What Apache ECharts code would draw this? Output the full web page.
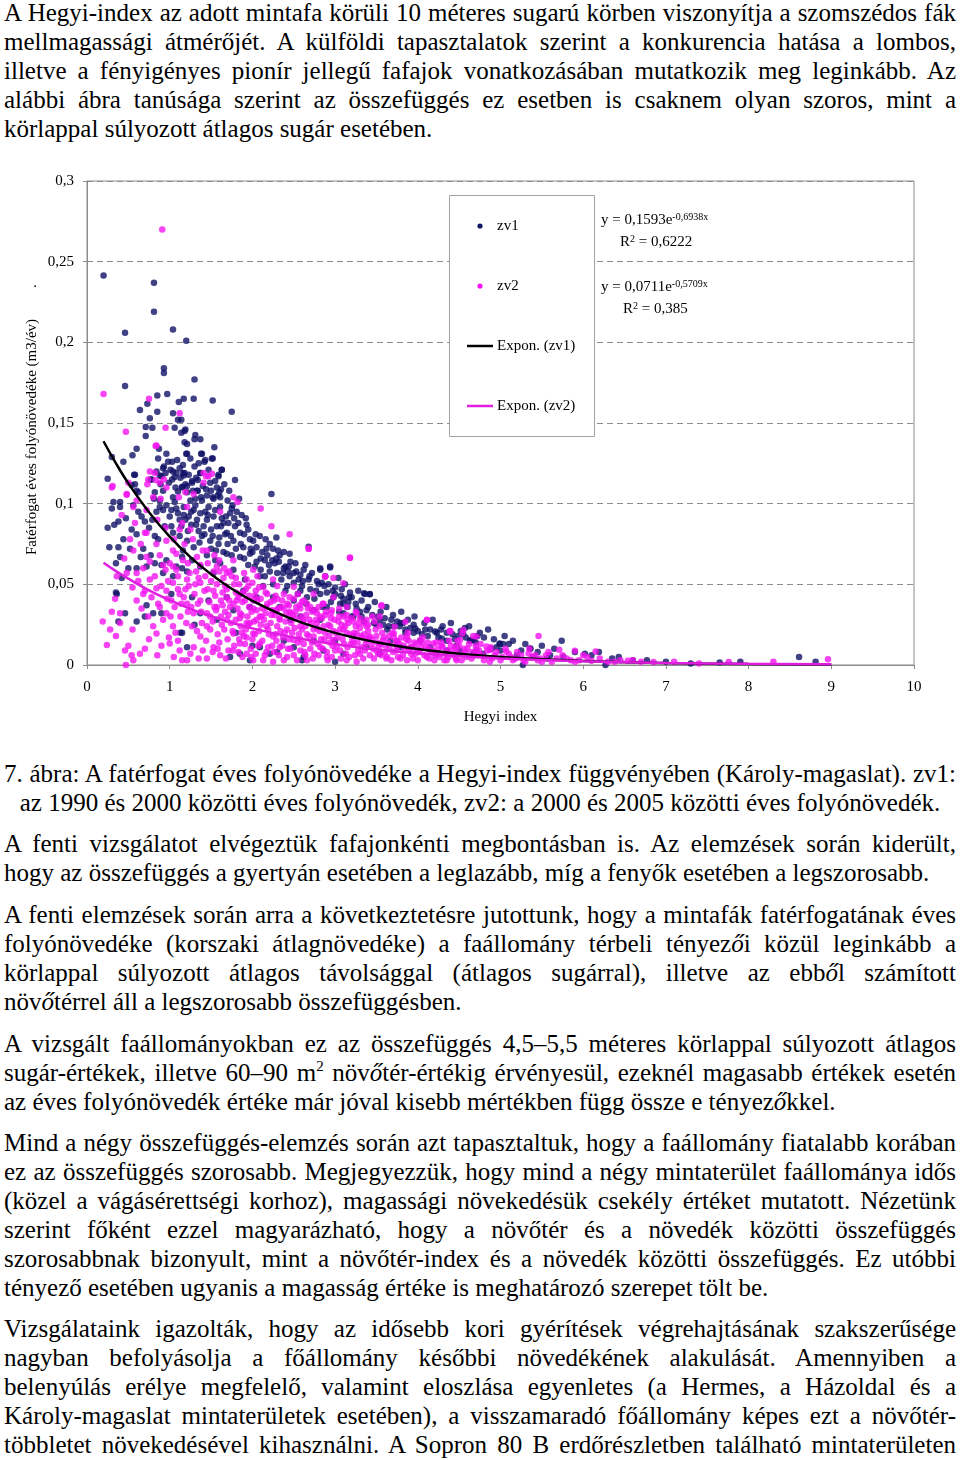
<!DOCTYPE html>
<html>
<head>
<meta charset="utf-8">
<script src="https://cdn.jsdelivr.net/npm/echarts@6/dist/echarts.min.js"></script>
<style>
  html, body { margin: 0; padding: 0; background: #fff; }
  body { width: 960px; height: 1460px; position: relative; overflow: hidden; }
  .para { position: absolute; left: 4px; width: 952px; font-family: "Liberation Serif", "Times New Roman", serif; font-size: 25px; line-height: 29px; color: #000; }
  .para > div { white-space: nowrap; height: 29px; }
  .para span.ln { display: inline-block; white-space: nowrap; transform-origin: 0 50%; }
  .c { text-align: center; }
  .para i { font-style: italic; }
  .para sup { font-size: 60%; line-height: 0; vertical-align: 0.7em; }
  #chart { position: absolute; left: 0; top: 150px; width: 960px; height: 600px; }
</style>
</head>
<body>
<div id="chart"></div>
<script>
// zv1: 1990-2000 folyónövedék, [Hegyi index, m3/év]
const zv1 = [
  [0.20,0.2415],[0.81,0.237],[0.81,0.219],[0.46,0.206],[1.04,0.208],[1.20,0.201],[0.93,0.184],[0.93,0.181],
  [1.30,0.177],[0.46,0.173],[0.97,0.168],[0.85,0.167],[1.29,0.165],[1.17,0.165],[1.11,0.163],[1.52,0.164],
  [0.73,0.162],[1.75,0.157],[0.64,0.158],[0.85,0.157],[1.04,0.156],[0.76,0.153],[1.10,0.152],[1.14,0.152],
  [0.71,0.1475],[0.79,0.147],[1.06,0.147],[1.19,0.146],[1.18,0.145],[1.14,0.144],[1.31,0.1425],[1.37,0.140],
  [1.30,0.140],[0.71,0.142],[1.18,0.138],[1.21,0.137],[1.54,0.135],[0.60,0.134],[0.87,0.134],[0.55,0.130],
  [0.96,0.131],[1.20,0.131],[1.38,0.131],[1.51,0.128],[1.42,0.126],[0.44,0.126],[1.03,0.126],[0.93,0.123],
  [1.63,0.121],[0.58,0.118],[1.04,0.120],[1.16,0.119],[1.17,0.1175],[1.06,0.1165],[1.37,0.119],[0.88,0.1175],
  [1.59,0.117],[0.25,0.1155],[0.77,0.115],[0.89,0.112],[1.27,0.113],[1.34,0.1146],[1.79,0.1146],[1.15,0.1105],
  [0.54,0.1115],[1.21,0.111],[1.62,0.109],[1.10,0.1075],[1.34,0.108],[0.60,0.108],[1.52,0.104],[1.58,0.105],
  [2.23,0.106],[0.81,0.103],[1.38,0.104],
  [0.30,0.129],[0.57,0.118],[0.40,0.101],[0.32,0.101],[0.62,0.107],[0.58,0.112],[0.78,0.115],[0.82,0.107],
  [0.84,0.120],[0.92,0.122],[0.95,0.119],[0.88,0.102],[0.98,0.126],[1.03,0.115],[1.08,0.119],[1.12,0.122],
  [1.18,0.119],[1.21,0.131],[1.30,0.123],[1.37,0.119],[1.39,0.131],[1.43,0.127],[1.52,0.128],[1.59,0.118],
  [1.63,0.121],[1.27,0.114],[1.15,0.110],[1.21,0.107],[1.33,0.108],[1.45,0.105],[1.53,0.103],[1.61,0.104],
  [1.39,0.102],[1.04,0.104],[0.92,0.108],[1.25,0.102],[1.31,0.103],[1.57,0.110],[1.49,0.113],
  [0.40,0.098],[0.38,0.089],[0.27,0.073],[0.38,0.073],[0.44,0.078],[0.54,0.084],[0.62,0.095],[0.70,0.089],
  [0.79,0.090],[0.82,0.080],[0.88,0.098],[0.92,0.096],[1.00,0.092],[0.94,0.086],[1.04,0.082],[1.12,0.090],
  [1.17,0.098],[1.23,0.092],[1.29,0.096],[1.33,0.090],[1.37,0.094],[1.41,0.086],[1.45,0.090],[1.47,0.098],
  [1.53,0.092],[1.57,0.086],[1.61,0.098],[1.65,0.088],[1.69,0.082],[1.73,0.094],[1.79,0.086],[1.81,0.095],
  [1.87,0.093],[1.92,0.091],[1.85,0.082],[1.95,0.084],[1.77,0.077],[1.89,0.073],[2.01,0.077],[2.09,0.080],
  [2.16,0.078],[2.29,0.079],[2.21,0.075],[1.59,0.075],[1.49,0.077],[1.29,0.073],[1.21,0.077],[1.39,0.080],
  [1.16,0.071],
  [0.60,0.060],[0.72,0.061],[0.82,0.063],[0.92,0.057],[0.96,0.065],[1.04,0.055],[1.08,0.061],[1.15,0.067],
  [1.21,0.058],[1.27,0.065],[1.37,0.061],[1.45,0.068],[1.53,0.057],[1.61,0.063],[1.69,0.069],[1.77,0.059],
  [1.85,0.067],[1.91,0.053],[1.97,0.069],[2.03,0.061],[2.09,0.055],[2.15,0.065],[2.21,0.058],[2.27,0.063],
  [2.33,0.068],[2.40,0.061],[2.46,0.064],[2.50,0.057],[2.56,0.053],[2.62,0.059],[2.68,0.053],[2.82,0.059],
  [2.94,0.061],[2.45,0.069],[2.38,0.070],[2.29,0.066],[2.84,0.051],[3.04,0.054],[2.68,0.0733],[2.94,0.0605],
  [2.82,0.060],[3.35,0.0444],[3.42,0.0438],[3.10,0.038],[3.54,0.028],[3.78,0.024],[3.97,0.0227],[4.21,0.0207],
  [0.36,0.044],[0.46,0.032],[0.38,0.027],[0.60,0.027],[0.72,0.037],[0.80,0.032],[0.90,0.032],[1.02,0.044],
  [1.15,0.020],[1.27,0.042],[1.37,0.032],[1.47,0.040],[1.57,0.028],[1.69,0.042],[1.77,0.034],[1.89,0.046],
  [1.97,0.036],[2.05,0.042],[2.13,0.049],[2.25,0.042],[2.33,0.036],[2.42,0.049],[2.50,0.040],[2.58,0.046],
  [2.66,0.042],[2.74,0.034],[2.82,0.044],[2.90,0.036],[2.98,0.042],[3.06,0.038],[3.18,0.045],[3.17,0.042],
  [3.36,0.044],[3.42,0.044],[3.10,0.032],[3.22,0.030],[3.32,0.030],[3.47,0.026],[3.58,0.025],[3.71,0.024],
  [3.79,0.026],[3.91,0.023],[2.82,0.028],[2.58,0.030],[2.46,0.028],
  [1.73,0.005],[1.85,0.007],[1.97,0.003],[2.09,0.011],[2.21,0.007],[2.38,0.015],[2.50,0.011],[2.62,0.005],
  [2.74,0.015],[2.86,0.009],[3.00,0.015],[3.10,0.007],[3.22,0.018],[3.38,0.011],[3.54,0.007],[3.67,0.015],
  [3.79,0.011],[3.95,0.020],[4.03,0.015],[4.15,0.011],[4.23,0.020],[4.35,0.015],[4.47,0.012],[4.57,0.023],
  [4.63,0.015],[4.71,0.009],[3.63,0.022],[3.85,0.020],[4.09,0.022],[1.13,0.020],[1.21,0.011],
  [4.29,0.0165],[4.49,0.018],[4.64,0.0155],[4.51,0.009],[4.79,0.007],[4.89,0.010],[4.99,0.013],[5.03,0.013],
  [5.00,0.009],[5.20,0.006],[5.27,0.000],[5.36,0.010],[5.40,0.005],[5.74,0.015],[5.76,0.005],[6.02,0.007],
  [6.19,0.008],[6.27,0.000],[6.43,0.005],[6.77,0.003],[7.65,0.0015],[7.90,0.002],[8.61,0.005],[8.81,0.002],
  [5.56,0.004],[4.67,0.007],[4.35,0.009],[4.67,0.0155],[4.99,0.0134],[5.36,0.0103],
  [1.50,0.072],[1.55,0.065],[1.60,0.079],[1.65,0.070],[1.70,0.075],[1.75,0.068],[1.80,0.072],[1.90,0.066],
  [1.95,0.062],[2.00,0.070],[2.05,0.064],[2.10,0.059],[2.15,0.055],[2.20,0.062],[2.25,0.050],[2.30,0.057],
  [2.35,0.053],[2.40,0.046],[2.45,0.055],[2.50,0.051],[2.55,0.044],[2.60,0.049],[2.65,0.038],[2.70,0.047],
  [2.75,0.041],[2.80,0.050],[2.85,0.036],[2.90,0.045],[2.95,0.039],[3.00,0.048],[3.05,0.033],[3.10,0.041],
  [3.15,0.036],[3.20,0.030],[3.25,0.038],[3.30,0.033],[3.35,0.027],[3.45,0.031],[3.50,0.025],[3.60,0.029],
  [3.65,0.024],[3.75,0.027],[3.85,0.022],[3.95,0.025],[4.05,0.019],[4.15,0.022],[4.25,0.017],[4.35,0.020],
  [4.45,0.016],[4.55,0.019],[4.70,0.014],[4.80,0.017],[4.95,0.011],[5.10,0.013],[5.25,0.009],[5.45,0.008],
  [5.60,0.006],[1.80,0.020],[2.00,0.012],[2.30,0.008],[2.60,0.003],[3.00,0.002],[1.30,0.025],[0.70,0.030],
  [0.35,0.045],[0.42,0.054],[0.50,0.060],[0.65,0.067],[0.90,0.062],[1.15,0.060],
  [0.86,0.128],[0.90,0.117],[0.99,0.113],[1.01,0.121],[1.07,0.110],[1.09,0.127],[1.13,0.116],[1.16,0.124],
  [1.19,0.112],[1.23,0.118],[1.25,0.128],[1.28,0.108],[1.32,0.116],[1.35,0.125],[1.40,0.111],[1.44,0.109],
  [1.47,0.121],[1.50,0.108],[1.55,0.114],[1.60,0.107],[1.66,0.112],[1.70,0.102],[1.72,0.108],[1.76,0.099],
  [1.84,0.103],[0.96,0.099],[1.02,0.096],[1.06,0.101],[1.10,0.094],[1.14,0.086],[1.19,0.090],[1.26,0.087],
  [1.31,0.099],[1.35,0.083],[1.43,0.095],[1.50,0.084],[1.55,0.096],[1.63,0.091],[1.67,0.081],[1.71,0.088],
  [1.75,0.097],[1.83,0.088],[1.90,0.081],[1.97,0.078],[2.05,0.073],[2.12,0.070],[2.18,0.068],[2.25,0.072],
  [2.32,0.064],[2.38,0.060],[2.43,0.058],[2.52,0.063],[2.58,0.056],[2.64,0.062],[2.72,0.057],[2.78,0.052],
  [2.88,0.055],[2.92,0.050],[3.00,0.044],[3.08,0.047],[3.12,0.050],[3.20,0.042],[3.28,0.046],[3.32,0.040],
  [3.40,0.036],[3.48,0.039],[3.55,0.033],[3.62,0.036],[3.70,0.031],[3.80,0.033],[3.88,0.028],[3.96,0.030],
  [4.08,0.026],[4.18,0.028],[4.30,0.024],[4.40,0.026],[4.52,0.021],[4.62,0.024],[4.75,0.020],[4.85,0.022],
  [4.92,0.016],[5.05,0.018],[5.15,0.015],[5.30,0.013],[5.50,0.012],[5.65,0.010],[5.90,0.008],[6.10,0.006],
  [6.35,0.004],[6.60,0.003],[7.00,0.002],[7.30,0.001],
  [0.33,0.087],[0.40,0.067],[0.47,0.091],[0.52,0.072],[0.56,0.099],[0.60,0.081],[0.66,0.092],[0.68,0.072],
  [0.75,0.085],[0.77,0.068],[0.84,0.095],[0.86,0.078],[0.30,0.097],[0.35,0.063],[0.25,0.085],
  [1.02,0.086],[1.08,0.097],[1.12,0.080],[1.17,0.093],[1.22,0.083],[1.26,0.095],[1.32,0.087],[1.36,0.076],
  [1.42,0.081],[1.46,0.093],[1.52,0.080],[1.56,0.071],[1.62,0.086],[1.68,0.092],[1.74,0.080],[1.78,0.091],
  [1.86,0.075],[1.93,0.087],[1.98,0.072],[2.04,0.081],[2.10,0.066],[2.17,0.072],[2.24,0.065],[2.31,0.071],
  [2.37,0.057],[2.44,0.061],[2.53,0.058],[2.61,0.052],[2.69,0.055],[2.77,0.046],[2.87,0.049],[2.97,0.046],
  [3.07,0.043],[3.16,0.039],[3.26,0.035],[3.38,0.034],[3.52,0.030],[3.68,0.028],[3.82,0.026],[4.00,0.021],
  [4.12,0.018],[4.28,0.022],[4.42,0.019],[4.58,0.017],[4.72,0.018]
];

// zv2: 2000-2005 folyónövedék
const zv2 = [
  [0.91,0.270],[0.20,0.168],[0.75,0.165],[1.12,0.156],[0.47,0.1445],[0.95,0.147],[0.84,0.136],[0.83,0.1357],
  [0.76,0.120],[0.83,0.1146],[0.93,0.115],[0.73,0.112],[0.31,0.111],[0.48,0.1055],[1.44,0.117],[1.51,0.1185],
  [1.41,0.113],[1.19,0.107],[1.11,0.104],[0.89,0.103],
  [0.19,0.027],[0.28,0.022],[0.24,0.0124],[0.34,0.041],[0.40,0.032],[0.40,0.026],[0.46,0.009],[0.47,0.000],
  [0.54,0.006],[0.56,0.003],[0.64,0.007],[0.36,0.055],[0.48,0.057],[0.56,0.071],[0.60,0.102],[0.56,0.098],
  [0.48,0.106],[0.50,0.113],[0.30,0.110],[0.72,0.096],[0.80,0.104],[0.74,0.115],[0.88,0.113],[0.96,0.110],
  [0.82,0.119],[0.72,0.067],[0.60,0.057],[0.76,0.053],[0.84,0.0475],[0.68,0.044],[0.96,0.046],[1.04,0.051],
  [1.12,0.044],[0.88,0.036],[0.96,0.032],[1.04,0.024],[0.84,0.0196],[1.00,0.0134],[1.12,0.009],[1.21,0.003],
  [1.29,0.011],[1.37,0.0176],[1.45,0.024],[1.53,0.011],[1.61,0.006],[1.29,0.032],[1.21,0.038],[1.37,0.040],
  [1.45,0.032],[1.57,0.036],[1.69,0.028],[1.77,0.0196],[1.85,0.0134],[1.93,0.007],[2.01,0.003],[1.77,0.038],
  [1.85,0.032],[1.93,0.026],[2.01,0.0196],[2.09,0.0134],[2.17,0.008],[2.25,0.002],[2.09,0.030],[2.17,0.024],
  [2.25,0.0176],[2.33,0.011],[2.42,0.005],[2.33,0.028],[2.42,0.022],[2.50,0.0155],[2.58,0.009],[2.66,0.003],
  [2.58,0.024],[2.74,0.0176],[2.82,0.011],[2.90,0.005],[2.98,0.0155],[3.06,0.009],[3.14,0.003],[3.22,0.0134],
  [3.30,0.007],[3.38,0.0155],[3.50,0.009],[3.63,0.005],[3.75,0.011],[3.87,0.003],[3.99,0.009],[4.11,0.005],
  [4.23,0.007],[4.35,0.003],[4.47,0.009],[4.59,0.005],[4.71,0.007],
  [1.15,0.088],[1.25,0.084],[1.21,0.098],[1.29,0.106],[1.41,0.119],[1.47,0.117],[1.61,0.095],[1.77,0.104],
  [1.82,0.101],[2.10,0.097],[2.23,0.086],[2.45,0.081],[2.68,0.072],[3.18,0.0665],[2.88,0.055],[2.98,0.054],
  [3.56,0.037],[4.11,0.028],[4.39,0.021],[1.33,0.067],[1.45,0.071],[1.57,0.061],[1.69,0.057],[1.77,0.065],
  [1.93,0.053],[2.01,0.059],[2.13,0.0485],[2.25,0.053],[2.38,0.044],[2.50,0.0485],[2.62,0.040],[2.74,0.044],
  [2.86,0.038],[2.98,0.042],[3.14,0.036],[3.26,0.032],[3.38,0.028],[3.54,0.024],[3.71,0.0196],[3.87,0.0176],
  [4.03,0.0155],[4.19,0.0134],[4.51,0.0155],[0.96,0.077],[1.04,0.071],[0.84,0.075],[0.72,0.082],[1.08,0.059],
  [1.21,0.053],[1.37,0.051],[1.53,0.046],[1.69,0.042],[1.85,0.044],[2.01,0.040],[2.17,0.036],[2.29,0.034],
  [2.46,0.032],[2.62,0.028],[2.78,0.026],[2.94,0.024],[3.10,0.022],[3.26,0.0196],[3.42,0.0176],[3.58,0.0155],
  [3.75,0.0145],[3.91,0.011],
  [4.39,0.021],[4.54,0.0196],[4.67,0.018],[4.76,0.013],[4.71,0.0097],[4.87,0.0093],[5.07,0.0083],[5.46,0.018],
  [5.34,0.0072],[5.71,0.0095],[5.90,0.0089],[6.15,0.0083],[6.54,0.0027],[6.85,0.0019],[7.76,0.0019],[8.96,0.0035],
  [5.90,0.002],[5.48,0.004],[5.15,0.003],[4.87,0.002],[4.47,0.003],[6.10,0.0027],[4.27,0.007],
  [2.68,0.072],[3.18,0.0665],[3.56,0.0365],[4.11,0.0279],[3.85,0.0268],[3.72,0.0237],[2.88,0.0547],[3.10,0.0506],
  [3.54,0.030],[4.55,0.0217],[4.39,0.0207],[4.71,0.0176],[4.83,0.0114],
  [1.62,0.030],[1.66,0.022],[1.70,0.016],[1.74,0.026],[1.78,0.012],[1.82,0.035],[1.86,0.024],[1.90,0.018],
  [1.94,0.030],[1.98,0.010],[2.02,0.027],[2.05,0.034],[2.08,0.021],[2.12,0.015],[2.14,0.028],[2.18,0.038],
  [2.20,0.019],[2.24,0.012],[2.27,0.031],[2.30,0.024],[2.32,0.006],[2.35,0.036],[2.37,0.017],[2.40,0.027],
  [2.43,0.010],[2.45,0.033],[2.48,0.020],[2.52,0.029],[2.55,0.014],[2.57,0.037],[2.60,0.022],[2.63,0.008],
  [2.65,0.031],[2.68,0.018],[2.71,0.026],[2.73,0.004],[2.76,0.034],[2.79,0.013],[2.81,0.021],[2.84,0.029],
  [2.87,0.016],[2.90,0.008],[2.92,0.025],[2.95,0.032],[2.97,0.012],[3.01,0.020],[3.04,0.027],[3.07,0.004],
  [3.09,0.016],[3.12,0.024],[3.15,0.011],[3.18,0.019],[3.20,0.029],[3.24,0.006],[3.27,0.014],[3.30,0.023],
  [3.33,0.017],[3.36,0.009],[3.40,0.021],[3.44,0.013],[3.47,0.004],[3.50,0.018],[3.53,0.011],[3.57,0.020],
  [3.60,0.008],[3.64,0.014],[3.68,0.003],[3.71,0.017],[3.74,0.009],[3.78,0.013],[3.82,0.006],[3.86,0.016],
  [3.90,0.010],[3.94,0.004],[3.98,0.013],[4.02,0.008],[4.06,0.017],[4.10,0.011],[4.14,0.004],[4.18,0.009],
  [4.22,0.014],[4.26,0.005],[4.30,0.011],[4.34,0.007],[4.38,0.015],[4.42,0.009],[4.46,0.004],[4.50,0.012],
  [4.55,0.007],[4.60,0.010],[4.65,0.004],[4.70,0.012],[4.78,0.006],[4.84,0.009],[4.90,0.004],[4.95,0.008],
  [5.02,0.005],[5.10,0.007],[5.18,0.004],[5.25,0.006],[5.30,0.002],[5.38,0.005],[5.45,0.003],[5.55,0.006],
  [5.62,0.002],[5.80,0.004],[5.95,0.003],[6.05,0.005],[6.30,0.002],[6.45,0.003],
  [1.02,0.040],[1.06,0.036],[1.10,0.047],[1.13,0.030],[1.17,0.042],[1.20,0.026],[1.23,0.049],[1.26,0.036],
  [1.30,0.044],[1.33,0.021],[1.35,0.054],[1.38,0.033],[1.42,0.046],[1.44,0.015],[1.48,0.039],[1.50,0.052],
  [1.52,0.027],[1.55,0.043],[1.58,0.019],[1.60,0.058],[1.64,0.037],[1.67,0.049],[1.71,0.031],[1.75,0.055],
  [1.80,0.045],[1.84,0.050],[1.88,0.039],[1.92,0.047],[1.96,0.043],[2.00,0.051],[2.04,0.046],[2.10,0.041],
  [2.16,0.045],[2.22,0.039],[2.28,0.043],[2.36,0.040],[2.44,0.037],[2.50,0.041],[2.58,0.035],[2.66,0.038],
  [2.72,0.033],[2.80,0.036],[2.88,0.031],[2.96,0.034],[3.05,0.030],[3.14,0.031],[3.22,0.027],[3.30,0.029],
  [3.40,0.025],[3.48,0.027],
  [0.55,0.048],[0.60,0.040],[0.62,0.052],[0.66,0.035],[0.68,0.060],[0.70,0.046],[0.74,0.030],[0.76,0.064],
  [0.78,0.042],[0.80,0.024],[0.82,0.055],[0.86,0.038],[0.88,0.068],[0.90,0.049],[0.92,0.028],[0.95,0.059],
  [0.97,0.041],[0.99,0.017],[0.65,0.075],[0.70,0.082],[0.58,0.088],[0.52,0.078],[0.45,0.066],[0.42,0.093],
  [0.85,0.090],[0.95,0.085],[1.00,0.063],[1.05,0.078],[1.08,0.069],[1.12,0.084],[1.18,0.075],[1.22,0.063],
  [1.28,0.078],[1.32,0.058],[1.40,0.071],[1.46,0.063],[1.54,0.068],[1.60,0.065],[1.66,0.060],[1.72,0.058],
  [1.80,0.054],[1.90,0.057],[2.06,0.055],[2.30,0.049],[2.55,0.044],
  [0.30,0.033],[0.35,0.018],[0.50,0.012],[0.55,0.022],[0.70,0.010],[0.75,0.016],[0.85,0.006],[0.90,0.012],
  [1.05,0.005],[1.10,0.015],[1.15,0.003],[1.25,0.007],[1.35,0.004],[1.40,0.009],
  [1.52,0.008],[1.56,0.034],[1.60,0.014],[1.64,0.045],[1.68,0.004],[1.72,0.040],[1.76,0.009],[1.80,0.028],
  [1.84,0.016],[1.88,0.005],[1.92,0.022],[1.96,0.036],[2.00,0.016],[2.04,0.007],[2.06,0.040],[2.10,0.025],
  [2.13,0.003],[2.16,0.032],[2.19,0.011],[2.22,0.026],[2.26,0.040],[2.29,0.015],[2.31,0.035],[2.34,0.021],
  [2.38,0.003],[2.41,0.032],[2.44,0.016],[2.47,0.026],[2.50,0.006],[2.53,0.036],[2.56,0.019],[2.59,0.030],
  [2.62,0.013],[2.64,0.024],[2.67,0.035],[2.70,0.010],[2.74,0.022],[2.77,0.028],[2.80,0.006],[2.83,0.016],
  [2.86,0.024],[2.89,0.033],[2.93,0.018],[2.96,0.005],[2.99,0.028],[3.02,0.012],[3.06,0.022],[3.10,0.030],
  [3.13,0.007],[3.16,0.026],[3.19,0.013],[3.23,0.020],[3.26,0.002],[3.29,0.026],[3.32,0.011],[3.35,0.019],
  [3.38,0.024],[3.42,0.006],[3.45,0.016],[3.49,0.022],[3.52,0.007],[3.55,0.013],[3.59,0.017],[3.62,0.004],
  [3.66,0.010],[3.69,0.020],[3.73,0.013],[3.76,0.005],[3.80,0.017],[3.84,0.010],[3.88,0.020],[3.92,0.007],
  [3.96,0.014],[4.00,0.003],[4.04,0.011],[4.08,0.006],[4.12,0.014],[4.16,0.008],[4.20,0.003],[4.24,0.010],
  [4.28,0.014],[4.32,0.003],[4.36,0.009],[4.40,0.012],[4.44,0.006],[4.48,0.015],[4.53,0.003],[4.58,0.008],
  [4.62,0.013],[4.68,0.006],[4.74,0.009],[4.80,0.003],[4.88,0.011],[4.93,0.006],[5.00,0.003],[5.06,0.010],
  [5.13,0.005],[5.20,0.008],[5.28,0.003],[5.35,0.010],[5.42,0.006],[5.50,0.002],[5.58,0.008],[5.68,0.004],
  [5.75,0.006],[5.85,0.003],[6.00,0.006],[6.20,0.004],[6.38,0.002],[6.60,0.003],[6.70,0.002],[7.10,0.002],
  [7.40,0.001],[8.30,0.002],
  [0.92,0.062],[0.98,0.052],[1.01,0.030],[1.04,0.061],[1.07,0.020],[1.10,0.055],[1.14,0.038],[1.16,0.065],
  [1.19,0.047],[1.22,0.033],[1.24,0.057],[1.27,0.024],[1.31,0.050],[1.34,0.038],[1.37,0.062],[1.39,0.026],
  [1.43,0.055],[1.46,0.047],[1.49,0.030],[1.53,0.058],[1.57,0.050],[1.62,0.040],[1.65,0.054],[1.69,0.047],
  [1.73,0.036],[1.78,0.050],[1.83,0.042],[1.87,0.031],[1.91,0.040],[1.95,0.049],[1.99,0.033],[2.03,0.043],
  [2.08,0.048],[2.12,0.035],[2.18,0.044],[2.24,0.034],[2.30,0.041],[2.38,0.035],[2.45,0.042],[2.52,0.033],
  [2.60,0.039],[2.70,0.036],[2.78,0.032],[2.85,0.038],[2.95,0.029],[3.05,0.035],[3.15,0.028],[3.25,0.033],
  [3.35,0.026],[3.45,0.030],
  [1.83,0.008],[1.87,0.020],[1.91,0.013],[1.95,0.025],[1.99,0.005],[2.03,0.019],[2.07,0.012],[2.11,0.030],
  [2.15,0.006],[2.19,0.022],[2.23,0.031],[2.26,0.008],[2.28,0.019],[2.33,0.029],[2.36,0.012],[2.39,0.020],
  [2.42,0.038],[2.46,0.010],[2.49,0.031],[2.51,0.023],[2.54,0.003],[2.58,0.016],[2.61,0.027],[2.64,0.006],
  [2.66,0.019],[2.69,0.028],[2.72,0.014],[2.75,0.007],[2.78,0.023],[2.82,0.030],[2.85,0.010],[2.88,0.020],
  [2.91,0.003],[2.94,0.014],[2.98,0.021],[3.00,0.009],[3.03,0.017],[3.08,0.025],[3.11,0.013],[3.14,0.020],
  [3.17,0.005],[3.21,0.016],[3.25,0.024],[3.28,0.009],[3.31,0.018],[3.34,0.004],[3.37,0.013],[3.41,0.017],
  [3.46,0.010],[3.51,0.014],[3.56,0.006],[3.61,0.012],[3.65,0.018],[3.70,0.008],[3.75,0.015],[3.79,0.004],
  [3.83,0.012],[3.89,0.015],[3.93,0.011],[3.97,0.007],[4.05,0.014],[4.13,0.010],[4.21,0.006],[4.29,0.012],
  [4.37,0.005],[4.45,0.011],[4.56,0.010],[4.66,0.008],
  [1.45,0.004],[1.49,0.022],[1.54,0.036],[1.58,0.010],[1.63,0.025],[1.67,0.033],[1.71,0.009],[1.76,0.021],
  [1.81,0.040],[1.85,0.029],[1.89,0.045],[1.93,0.017],[1.97,0.026],[2.01,0.035],[2.05,0.028]
];

// Expon. trendlines (y = 0,1593e^-0,6938x and y = 0,0711e^-0,5709x)
const trendX  = [0.2, 0.35, 0.5, 0.75, 1, 1.25, 1.5, 1.75, 2, 2.5, 3, 3.5, 4, 4.5, 5, 6, 7, 8, 9];
const trend1Y = [0.1387, 0.1250, 0.1126, 0.0947, 0.0796, 0.0669, 0.0563, 0.0473, 0.0398, 0.0281, 0.0199, 0.0141, 0.0099, 0.0070, 0.0050, 0.0025, 0.0012, 0.0006, 0.0003];
const trend2Y = [0.0634, 0.0582, 0.0535, 0.0463, 0.0402, 0.0348, 0.0302, 0.0262, 0.0227, 0.0171, 0.0128, 0.0096, 0.0073, 0.0055, 0.0041, 0.0023, 0.0013, 0.0007, 0.0004];

const legendNames = ["zv1", "zv2", "Expon. (zv1)", "Expon. (zv2)"];
const eq1 = ["0,1593", "-0,6938x", "0,6222"];
const eq2 = ["0,0711", "-0,5709x", "0,385"];

const NAVY = "#121268";
const PINK = "#f414f0";
const FONT = '"Liberation Serif", "Times New Roman", serif';

const chart = echarts.init(document.getElementById("chart"));

const toPairs = (xs, ys) => xs.map((x, i) => [x, ys[i]]);

const option = {
  animation: false,
  grid: { left: 87, right: 46, top: 31, bottom: 85, show: true, borderColor: "#8c8c8c", borderWidth: 1, backgroundColor: "transparent" },
  xAxis: {
    type: "value", min: 0, max: 10, interval: 1,
    name: "Hegyi index", nameLocation: "middle", nameGap: 45,
    nameTextStyle: { fontFamily: FONT, fontSize: 15, color: "#000" },
    axisLine: { show: true, lineStyle: { color: "#8c8c8c" } },
    axisTick: { show: true, length: 4, lineStyle: { color: "#8c8c8c" } },
    axisLabel: { fontFamily: FONT, fontSize: 15, color: "#000", margin: 15 },
    splitLine: { show: false }
  },
  yAxis: {
    type: "value", min: 0, max: 0.3, interval: 0.05,
    axisLine: { show: true, lineStyle: { color: "#8c8c8c" } },
    axisTick: { show: true, length: 4, lineStyle: { color: "#8c8c8c" } },
    axisLabel: { fontFamily: FONT, fontSize: 15, color: "#000", margin: 13, formatter: (v) => String(+v.toFixed(2)).replace(".", ",") },
    splitLine: { show: true, lineStyle: { color: "#8c8c8c", type: [6, 4], width: 1 } }
  },
  series: [
    { name: legendNames[0], type: "scatter", data: zv1, symbolSize: 6.5, itemStyle: { color: NAVY } },
    { name: legendNames[1], type: "scatter", data: zv2, symbolSize: 6.5, itemStyle: { color: PINK } },
    { name: legendNames[2], type: "line", data: toPairs(trendX, trend1Y), smooth: 0.4, showSymbol: false, lineStyle: { color: "#000", width: 2.5 }, z: 5 },
    { name: legendNames[3], type: "line", data: toPairs(trendX, trend2Y), smooth: 0.4, showSymbol: false, lineStyle: { color: "#e01ee0", width: 2.5 }, z: 5 }
  ],
  graphic: [
    // y axis title
    { type: "text", x: 32, y: 287, rotation: Math.PI / 2, z: 10,
      style: { text: "Fatérfogat éves folyónövedéke (m3/év)", font: "15px " + FONT, fill: "#000", align: "center", verticalAlign: "middle" } },
    { type: "text", x: 35, y: 133, z: 10, style: { text: ".", font: "15px " + FONT, fill: "#000", align: "center", verticalAlign: "middle" } },
    // legend box
    { type: "rect", z: 10, shape: { x: 449.5, y: 45.5, width: 145, height: 241 }, style: { fill: "#fff", stroke: "#a0a0a0", lineWidth: 1 } },
    { type: "circle", z: 11, shape: { cx: 480, cy: 76, r: 2.6 }, style: { fill: NAVY } },
    { type: "circle", z: 11, shape: { cx: 480, cy: 136, r: 2.6 }, style: { fill: PINK } },
    { type: "line", z: 11, shape: { x1: 467, y1: 196, x2: 493, y2: 196 }, style: { stroke: "#000", lineWidth: 2.5 } },
    { type: "line", z: 11, shape: { x1: 467, y1: 256, x2: 493, y2: 256 }, style: { stroke: "#e01ee0", lineWidth: 2.5 } },
    ...legendNames.map((n, i) => ({ type: "text", z: 11, x: 497, y: 76 + i * 60,
      style: { text: n, font: "15px " + FONT, fill: "#000", verticalAlign: "middle" } })),
    // trendline equations
    ...[[eq1, 70], [eq2, 137]].map(([eq, y]) => ({ type: "text", z: 11, x: 601, y: y,
      style: { text: "{m|y = " + eq[0] + "e}{s|" + eq[1] + "}", fill: "#000", verticalAlign: "middle",
        rich: { m: { font: "15px " + FONT, verticalAlign: "bottom" }, s: { font: "10px " + FONT, verticalAlign: "top" } } } })),
    ...[[eq1, 92, 620], [eq2, 159, 623]].map(([eq, y, x]) => ({ type: "text", z: 11, x: x, y: y,
      style: { text: "{m|R}{s|2}{m| = " + eq[2] + "}", fill: "#000", verticalAlign: "middle",
        rich: { m: { font: "15px " + FONT, verticalAlign: "bottom" }, s: { font: "10px " + FONT, verticalAlign: "top" } } } }))
  ]
};

chart.setOption(option);

// text around the figure
const paragraphs = [
  { top: -2, lines: [
    ["j", "A Hegyi-index az adott mintafa körüli 10 méteres sugarú körben viszonyítja a szomszédos fák"],
    ["j", "mellmagassági átmérőjét. A külföldi tapasztalatok szerint a konkurencia hatása a lombos,"],
    ["j", "illetve a fényigényes pionír jellegű fafajok vonatkozásában mutatkozik meg leginkább. Az"],
    ["j", "alábbi ábra tanúsága szerint az összefüggés ez esetben is csaknem olyan szoros, mint a"],
    ["l", "körlappal súlyozott átlagos sugár esetében."]
  ]},
  { top: 759, lines: [
    ["j", "7. ábra: A fatérfogat éves folyónövedéke a Hegyi-index függvényében (Károly-magaslat). zv1:"],
    ["c", "az 1990 és 2000 közötti éves folyónövedék, zv2: a 2000 és 2005 közötti éves folyónövedék."]
  ]},
  { top: 829, lines: [
    ["j", "A fenti vizsgálatot elvégeztük fafajonkénti megbontásban is. Az elemzések során kiderült,"],
    ["l", "hogy az összefüggés a gyertyán esetében a leglazább, míg a fenyők esetében a legszorosabb."]
  ]},
  { top: 900, lines: [
    ["j", "A fenti elemzések során arra a következtetésre jutottunk, hogy a mintafák fatérfogatának éves"],
    ["j", "folyónövedéke (korszaki átlagnövedéke) a faállomány térbeli tényez<i>ő</i>i közül leginkább a"],
    ["j", "körlappal súlyozott átlagos távolsággal (átlagos sugárral), illetve az ebb<i>ő</i>l számított"],
    ["l", "növ<i>ő</i>térrel áll a legszorosabb összefüggésben."]
  ]},
  { top: 1029, lines: [
    ["j", "A vizsgált faállományokban ez az összefüggés 4,5–5,5 méteres körlappal súlyozott átlagos"],
    ["j", "sugár-értékek, illetve 60–90 m<sup>2</sup> növ<i>ő</i>tér-értékig érvényesül, ezeknél magasabb értékek esetén"],
    ["l", "az éves folyónövedék értéke már jóval kisebb mértékben függ össze e tényez<i>ő</i>kkel."]
  ]},
  { top: 1128, lines: [
    ["j", "Mind a négy összefüggés-elemzés során azt tapasztaltuk, hogy a faállomány fiatalabb korában"],
    ["j", "ez az összefüggés szorosabb. Megjegyezzük, hogy mind a négy mintaterület faállománya idős"],
    ["j", "(közel a vágásérettségi korhoz), magassági növekedésük csekély értéket mutatott. Nézetünk"],
    ["j", "szerint főként ezzel magyarázható, hogy a növőtér és a növedék közötti összefüggés"],
    ["j", "szorosabbnak bizonyult, mint a növőtér-index és a növedék közötti összefüggés. Ez utóbbi"],
    ["l", "tényező esetében ugyanis a magasság értéke is meghatározó szerepet tölt be."]
  ]},
  { top: 1314, lines: [
    ["j", "Vizsgálataink igazolták, hogy az idősebb kori gyérítések végrehajtásának szakszerűsége"],
    ["j", "nagyban befolyásolja a főállomány későbbi növedékének alakulását. Amennyiben a"],
    ["j", "belenyúlás erélye megfelelő, valamint eloszlása egyenletes (a Hermes, a Házoldal és a"],
    ["j", "Károly-magaslat mintaterületek esetében), a visszamaradó főállomány képes ezt a növőtér-"],
    ["j", "többletet növekedésével kihasználni. A Sopron 80 B erdőrészletben található mintaterületen"]
  ]}
];

const LINE_W = 952;
paragraphs.forEach((p) => {
  const box = document.createElement("div");
  box.className = "para";
  box.style.top = p.top + "px";
  document.body.appendChild(box);
  p.lines.forEach(([mode, html]) => {
    const line = document.createElement("div");
    if (mode === "c") line.className = "c";
    const span = document.createElement("span");
    span.className = "ln";
    span.innerHTML = html;
    line.appendChild(span);
    box.appendChild(line);
    const natural = span.getBoundingClientRect().width;
    if (mode === "j") {
      // justify by word spacing; squeeze letters only if spaces cannot absorb it
      const gaps = (span.textContent.match(/ /g) || []).length;
      let ws = gaps ? (LINE_W - natural) / gaps : 0;
      if (ws < -2.5) ws = -2.5;
      span.style.wordSpacing = ws + "px";
      const w = span.getBoundingClientRect().width;
      if (w > LINE_W) span.style.transform = "scaleX(" + (LINE_W / w) + ")";
    } else if (natural > LINE_W) {
      span.style.transform = "scaleX(" + (LINE_W / natural) + ")";
    }
  });
});
</script>
</body>
</html>
